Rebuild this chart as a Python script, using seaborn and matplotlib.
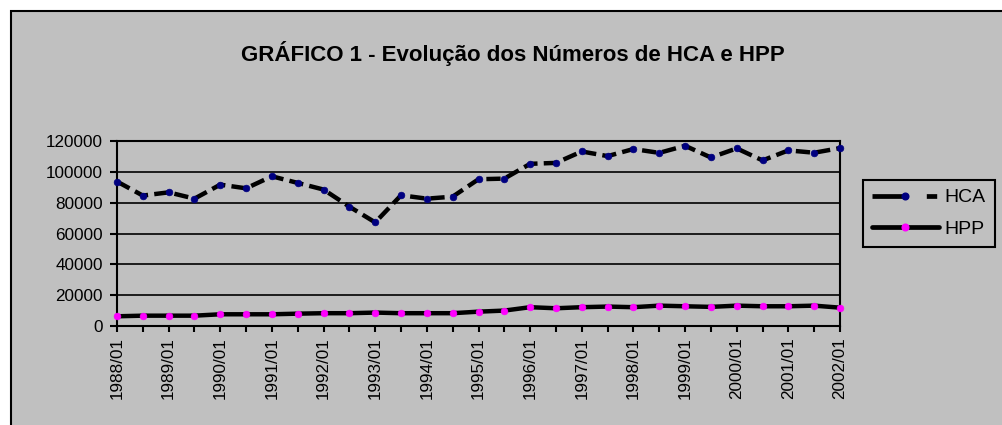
import matplotlib
matplotlib.use("Agg")
import matplotlib.pyplot as plt
import seaborn as sns
import pandas as pd
from matplotlib import font_manager
from matplotlib.lines import Line2D
from matplotlib.patches import Rectangle

periods = ["1988/01", "1988/07", "1989/01", "1989/07", "1990/01", "1990/07",
           "1991/01", "1991/07", "1992/01", "1992/07", "1993/01", "1993/07",
           "1994/01", "1994/07", "1995/01", "1995/07", "1996/01", "1996/07",
           "1997/01", "1997/07", "1998/01", "1998/07", "1999/01", "1999/07",
           "2000/01", "2000/07", "2001/01", "2001/07", "2002/01"]
hca = [93700, 84600, 86700, 82600, 91700, 89300, 97100, 92800, 88500, 77400,
       67200, 84800, 82600, 83900, 95200, 95600, 105200, 105800, 113200, 110200,
       114800, 112300, 116900, 109300, 115200, 107400, 113900, 112400, 115400]
hpp = [6300, 6700, 6700, 6700, 7600, 7600, 7600, 8000, 8300, 8300,
       8700, 8300, 8300, 8300, 9300, 10000, 12200, 11500, 12200, 12600,
       12200, 13200, 12800, 12400, 13200, 12800, 12800, 13200, 11900]
y_ticks = [0, 20000, 40000, 60000, 80000, 100000, 120000]
title = "GRÁFICO 1 - Evolução dos Números de HCA e HPP"
series_names = ["HCA", "HPP"]

sns.set_style("white")
names = {f.name for f in font_manager.fontManager.ttflist}
if "Liberation Sans Narrow" in names:
    fam = "Liberation Sans Narrow"
    fs_title, fs_tick, fs_leg = 19.5, 14, 15
else:
    fam = "Liberation Sans"
    fs_title, fs_tick, fs_leg = 16, 12.3, 14
plt.rcParams["font.family"] = [fam, "DejaVu Sans"]
plt.rcParams["text.color"] = "black"
plt.rcParams["xtick.color"] = "black"
plt.rcParams["ytick.color"] = "black"
plt.rcParams["axes.labelcolor"] = "black"

W, H = 1003, 425
fig = plt.figure(figsize=(W / 100, H / 100), dpi=100)
fig.patch.set_facecolor("white")
bg = "#C0C0C0"
fig.patches.append(Rectangle((11 / W, -0.1), 1.2, 1 - 11 / H + 0.1,
                             transform=fig.transFigure, facecolor=bg,
                             edgecolor="black", linewidth=1.5, zorder=-5))

ax = fig.add_axes([117 / W, 1 - 326 / H, (840 - 117) / W, (326 - 141) / H])
ax.set_zorder(2)
ax.set_facecolor(bg)

df = pd.DataFrame({"idx": list(range(len(periods))), "HCA": hca, "HPP": hpp})

ms = 4.8
sns.lineplot(data=df, x="idx", y="HCA", ax=ax, color="black", lw=3.2,
             linestyle=(0, (3.2, 1.4)), marker="o", markersize=ms,
             markerfacecolor="#000080", markeredgecolor="#000080",
             markeredgewidth=0.5, legend=False, clip_on=False, zorder=3)
sns.lineplot(data=df, x="idx", y="HPP", ax=ax, color="black", lw=3.2,
             marker="o", markersize=ms, markerfacecolor="#FF00FF",
             markeredgecolor="#FF00FF", markeredgewidth=0.5,
             legend=False, clip_on=False, zorder=3)

ax.set_xlim(0, len(periods) - 1)
ax.set_ylim(0, 120000)
ax.set_yticks(y_ticks)
ax.set_yticklabels([str(v) for v in y_ticks], fontsize=fs_tick)
ax.set_xticks(list(range(len(periods))))
ax.set_xticklabels([p if p.endswith("/01") else "" for p in periods],
                   rotation=90, fontsize=fs_tick)
ax.set_xlabel("")
ax.set_ylabel("")
ax.grid(axis="y", color="black", linewidth=1.2)
ax.grid(axis="x", visible=False)
ax.set_axisbelow(True)
for s in ax.spines.values():
    s.set_color("black")
    s.set_linewidth(1.5)
ax.tick_params(axis="y", direction="out", length=5, width=1.5, pad=5,
               colors="black", left=True)
ax.tick_params(axis="x", direction="out", length=4.5, width=1.5, pad=3.5,
               colors="black", bottom=True)

fig.text(513 / W, 1 - 54 / H, title, ha="center", va="center",
         fontsize=fs_title, fontweight="bold", color="black")

h_hca = Line2D([], [], color="black", lw=3.4, linestyle=(0, (7.5, 4.0, 2.2, 12)),
               marker="o", markersize=ms, markerfacecolor="#000080",
               markeredgecolor="#000080")
h_hpp = Line2D([], [], color="black", lw=3.4, solid_capstyle="round",
               marker="o", markersize=ms, markerfacecolor="#FF00FF",
               markeredgecolor="#FF00FF")
leg = fig.legend([h_hca, h_hpp], series_names, loc="upper left",
                 bbox_to_anchor=(863 / W, 1 - 180 / H), frameon=True,
                 fancybox=False, edgecolor="black", facecolor=bg,
                 fontsize=fs_leg, handlelength=3.45, handletextpad=0.3,
                 borderpad=0.45, labelspacing=0.72, borderaxespad=0,
                 numpoints=1)
leg.get_frame().set_linewidth(1.5)
leg.get_frame().set_alpha(1)
for t in leg.get_texts():
    t.set_color("black")

fig.savefig("out.png", dpi=100, facecolor=fig.get_facecolor())
